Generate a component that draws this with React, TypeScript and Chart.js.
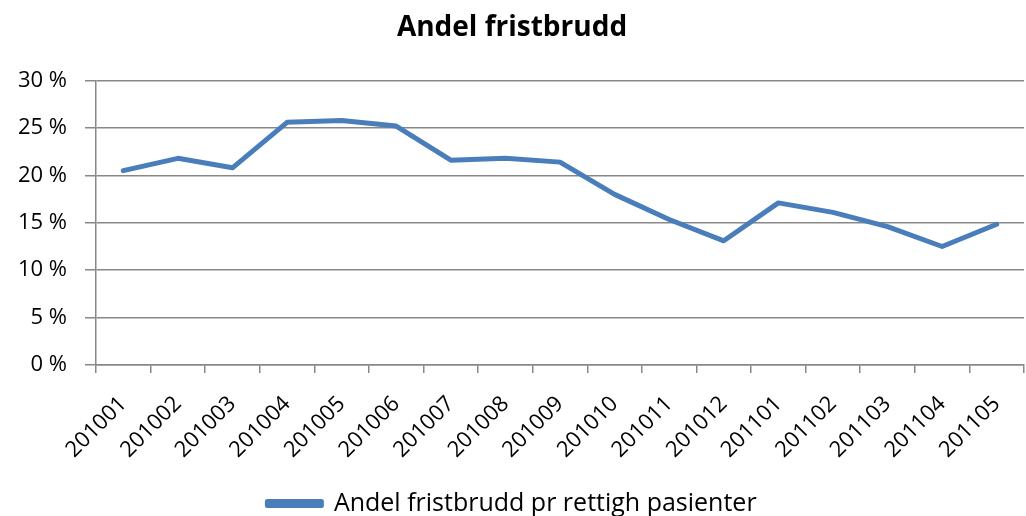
import React, { useEffect, useRef } from "react";
import { Chart, registerables } from "chart.js";

Chart.register(...registerables);

const categories = [
  "201001", "201002", "201003", "201004", "201005", "201006", "201007", "201008", "201009",
  "201010", "201011", "201012", "201101", "201102", "201103", "201104", "201105",
];
const seriesValues = [
  20.5, 21.8, 20.8, 25.6, 25.8, 25.2, 21.6, 21.8, 21.4, 18.0, 15.35, 13.1, 17.1, 16.1, 14.6, 12.5, 14.85,
];
const seriesName = "Andel fristbrudd pr rettigh pasienter";
const chartTitle = "Andel fristbrudd";
const yTicks = [0, 5, 10, 15, 20, 25, 30];

const FONT = "'Open Sans', 'Liberation Sans', sans-serif";
const BLUE = "#4A7EBB";
const GRID = "#888888";

export default function App() {
  const ref = useRef<HTMLCanvasElement | null>(null);
  useEffect(() => {
    if (!ref.current) return;
    const chart = new Chart(ref.current, {
      type: "line",
      data: {
        labels: categories,
        datasets: [
          {
            label: seriesName,
            data: seriesValues,
            borderColor: BLUE,
            backgroundColor: BLUE,
            borderWidth: 5,
            pointRadius: 0,
            tension: 0,
            borderJoinStyle: "round",
            borderCapStyle: "round",
          },
        ],
      },
      options: {
        responsive: false,
        animation: false,
        layout: { padding: { top: 0, right: 2, left: 0, bottom: -10 } },
        plugins: {
          title: {
            display: true,
            text: chartTitle,
            color: "#000",
            font: { family: FONT, size: 28, weight: "bold" },
            padding: { top: 11, bottom: 36 },
          },
          legend: {
            position: "bottom",
            labels: {
              color: "#000",
              font: { family: FONT, size: 25 },
              boxWidth: 54,
              boxHeight: 4,
              padding: 3,
            },
          },
          tooltip: { enabled: false },
        },
        scales: {
          x: {
            offset: true,
            grid: {
              offset: true,
              drawOnChartArea: false,
              drawTicks: true,
              tickLength: 8,
              color: GRID,
              lineWidth: 1.5,
            },
            border: { color: GRID, width: 1.5 },
            ticks: {
              color: "#000",
              font: { family: FONT, size: 22 },
              maxRotation: 45,
              minRotation: 45,
              padding: 18,
              autoSkip: false,
            },
            afterFit: (s: any) => {
              s.height = 123;
              s.paddingRight = 0;
              s.paddingLeft = 0;
            },
          },
          y: {
            min: 0,
            max: 30,
            afterBuildTicks: (s: any) => {
              s.ticks = yTicks.map((v) => ({ value: v }));
            },
            grid: {
              color: GRID,
              lineWidth: 1.5,
              drawTicks: true,
              tickLength: 11,
            },
            border: { color: GRID, width: 1.5 },
            ticks: {
              color: "#000",
              font: { family: FONT, size: 22 },
              padding: 18,
              callback: (v: any) => `${v} %`,
            },
            afterFit: (s: any) => {
              s.width = 96;
            },
          },
        },
      },
    });
    return () => chart.destroy();
  }, []);
  return (
    <div style={{ position: "absolute", left: 0, top: 0, width: 1026, height: 516, background: "#fff" }}>
      <canvas ref={ref} width={1026} height={516} style={{ display: "block" }} />
    </div>
  );
}
